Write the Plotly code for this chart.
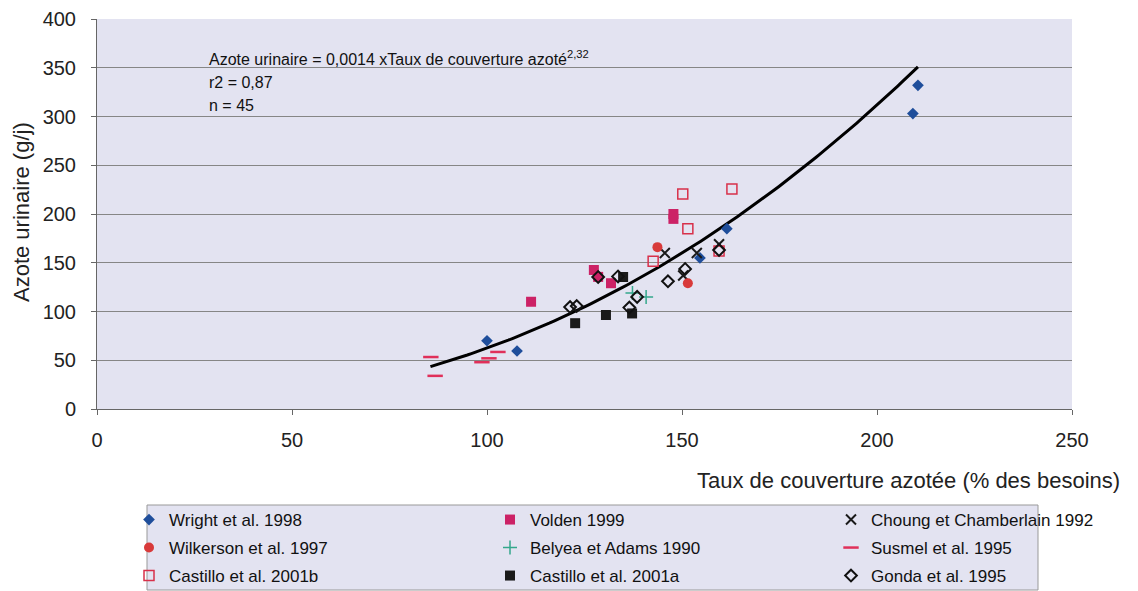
import numpy as np
import plotly.graph_objects as go

# --- data ---
wright_x = [100, 107.7, 154.6, 161.5, 209.2, 210.5]
wright_y = [70, 59.5, 155, 185, 303, 332]
volden_x = [111.3, 127.4, 128.5, 131.8, 147.8, 147.8]
volden_y = [110, 142.6, 135.5, 129, 200, 195]
choung_x = [145.6, 150.3, 153.8, 159.5]
choung_y = [160, 137, 160, 169]
wilkerson_x = [143.7, 151.5]
wilkerson_y = [166, 129]
belyea_x = [137.3, 140.8]
belyea_y = [119, 115]
susmel_x = [85.6, 86.7, 98.7, 100.5, 102.8]
susmel_y = [53.3, 34, 48, 52, 58.5]
castillo_b_x = [142.6, 150.2, 151.5, 159.5, 162.8]
castillo_b_y = [151.5, 220.5, 185, 162, 225.6]
castillo_a_x = [122.6, 130.5, 134.9, 137.2]
castillo_a_y = [88, 96.4, 135.4, 98]
gonda_x = [121.3, 123, 128.5, 133.6, 136.5, 138.5, 146.4, 150.8, 159.5]
gonda_y = [104.6, 105.6, 135.4, 136, 104, 115, 131, 143.6, 163]

# power trend: y = a * x^b  (label shows a rounded to 0,0014)
trend_a = 0.00143
trend_b = 2.32
trend_range = [85.5, 210.5]

eq_lines = ["Azote urinaire = 0,0014 xTaux de couverture azoté<sup>2,32</sup>",
            "r2 = 0,87", "n = 45"]

BG = "#E3E3F1"
FONT = "Liberation Sans, Arial, sans-serif"

series = [
    # name, x, y, symbol, color, size, line width, legend
    ("Wright et al. 1998", wright_x, wright_y, "diamond", "#1F4E9B", 9, 0, "legend"),
    ("Volden 1999", volden_x, volden_y, "square", "#CC2266", 10, 0, "legend2"),
    ("Choung et Chamberlain 1992", choung_x, choung_y, "x-thin", "#1A1A1A", 10, 2, "legend3"),
    ("Wilkerson et al. 1997", wilkerson_x, wilkerson_y, "circle", "#D83A3A", 10, 0, "legend4"),
    ("Belyea et Adams 1990", belyea_x, belyea_y, "cross-thin", "#34A88C", 10, 1.5, "legend5"),
    ("Susmel et al. 1995", susmel_x, susmel_y, "line-ew", "#E0305A", 11, 2.5, "legend6"),
    ("Castillo et al. 2001b", castillo_b_x, castillo_b_y, "square-open", "#D8304A", 10, 1.5, "legend7"),
    ("Castillo et al. 2001a", castillo_a_x, castillo_a_y, "square", "#1A1A1A", 10, 0, "legend8"),
    ("Gonda et al. 1995", gonda_x, gonda_y, "diamond-open", "#111111", 9, 2, "legend9"),
]

fig = go.Figure()

tx = np.linspace(trend_range[0], trend_range[1], 120)
fig.add_trace(go.Scatter(x=tx, y=trend_a * tx ** trend_b, mode="lines",
                         line=dict(color="black", width=3), showlegend=False,
                         hoverinfo="skip"))

for name, x, y, sym, col, size, lw, lg in series:
    fig.add_trace(go.Scatter(x=x, y=y, mode="markers", name=name, legend=lg,
                             marker=dict(symbol=sym, color=col, size=size,
                                         line=dict(color=col, width=lw))))

# plot area in screen pixels (page body has an 8px margin)
PAGE = 8
plot_l, plot_r, plot_t, plot_b = 97, 1072, 19, 409
pw, ph = plot_r - plot_l, plot_b - plot_t

def px(x):
    return (x - plot_l) / pw

def py(y):
    return (plot_b - y) / ph

col_px = [129, 490, 831]
row_px = [520, 548, 576]
legends = {}
for i, s in enumerate(series):
    c, r = i % 3, i // 3
    legends[s[7]] = dict(x=px(col_px[c]), y=py(row_px[r]),
                         xanchor="left", yanchor="middle", bgcolor="rgba(0,0,0,0)",
                         font=dict(family=FONT, size=17, color="#111"),
                         itemclick=False)

annotations = [
    dict(xref="paper", yref="paper", x=px(21), y=py(212), xanchor="center",
         yanchor="middle", text="Azote urinaire (g/j)", textangle=-90,
         showarrow=False, font=dict(size=22)),
    dict(xref="paper", yref="paper", x=px(1122), y=py(480),
         xanchor="right", yanchor="middle",
         text="Taux de couverture azotée (% des besoins)", showarrow=False,
         font=dict(size=22)),
]
for line, ypx in zip(eq_lines, [58, 82, 105]):
    annotations.append(dict(xref="paper", yref="paper", x=px(207), y=py(ypx),
                            xanchor="left", yanchor="middle", text=line,
                            showarrow=False, font=dict(size=16, color="#111")))

fig.update_layout(
    width=1138, height=591,
    margin=dict(l=plot_l - PAGE, r=1138 - plot_r + PAGE, t=plot_t - PAGE,
                b=591 - plot_b + PAGE, autoexpand=False),
    paper_bgcolor="white", plot_bgcolor=BG,
    font=dict(family=FONT, size=20, color="#222"),
    **legends,
    xaxis=dict(range=[0, 250], dtick=50, showgrid=False, zeroline=False,
               showline=True, linecolor="#666", linewidth=1,
               ticks="outside", ticklen=5, tickcolor="#666",
               ticklabelstandoff=8, tickfont=dict(size=20)),
    yaxis=dict(range=[0, 400], dtick=50, showgrid=True, gridcolor="#868686",
               gridwidth=1, zeroline=False, showline=True, linecolor="#666",
               linewidth=1, ticks="outside", ticklen=5, tickcolor="#666",
               ticklabelstandoff=11, tickfont=dict(size=20)),
    shapes=[
        dict(type="rect", xref="paper", yref="paper",
             x0=px(147), x1=px(1038), y0=py(590), y1=py(505),
             fillcolor=BG, line=dict(color="#999", width=1), layer="below"),
        # label box of the trend equation hides the grid behind it
        dict(type="rect", xref="paper", yref="paper",
             x0=px(204), x1=px(600), y0=py(119), y1=py(44),
             fillcolor=BG, line=dict(width=0), layer="between"),
    ],
    annotations=annotations,
)

fig.write_html("out.html")
